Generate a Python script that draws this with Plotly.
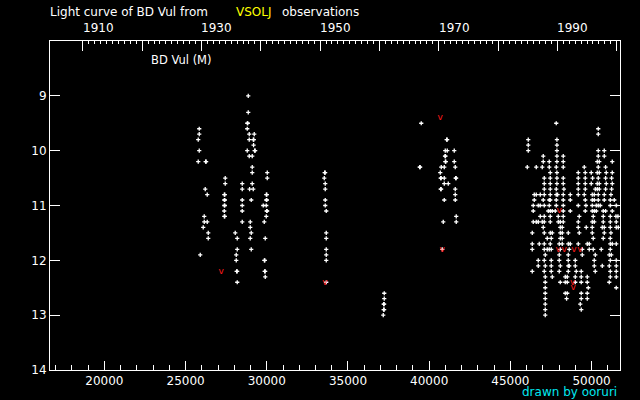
import plotly.graph_objects as go
from datetime import date

# ---------------- data (JD - 2400000, visual magnitude) ----------------
jd_early = [28858, 28858, 28800, 28830, 28796, 28919, 29227, 28919, 29170, 29200,
            29186, 28796, 29250, 29285, 28919, 29104, 25840, 25840, 25778, 25840,
            25778, 26235, 26265, 29104, 29104, 30028, 30028, 27441, 27441, 28488,
            29104, 26209, 28488, 28940, 29166, 26332, 27385, 27415, 29972, 30002,
            27385, 27415, 28488, 29042, 29972, 30002, 27385, 27415, 28488, 29782,
            29966, 27379, 28488, 29992, 30022, 27385, 27415, 26148, 29966, 26148,
            26332, 28488, 28981, 29843, 26086, 28981, 26394, 28057, 29042, 26394,
            28180, 28981, 29905, 28180, 29042, 25901, 28119, 28119, 29850, 29880,
            28145, 28175, 29870, 29900, 29905, 28180]
mag_early = [9.0, 9.3, 9.5, 9.5, 9.6, 9.7, 9.7, 9.8, 9.8, 9.8,
             9.9, 10.0, 10.0, 10.0, 10.1, 10.1, 9.6, 9.7, 9.8, 10.0,
             10.2, 10.2, 10.2, 10.3, 10.4, 10.4, 10.5, 10.5, 10.6, 10.6,
             10.6, 10.7, 10.7, 10.7, 10.7, 10.8, 10.8, 10.8, 10.8, 10.8,
             10.9, 10.9, 10.9, 10.9, 10.9, 10.9, 11.0, 11.0, 11.0, 11.0,
             11.0, 11.1, 11.1, 11.1, 11.1, 11.2, 11.2, 11.2, 11.2, 11.3,
             11.3, 11.3, 11.3, 11.3, 11.4, 11.4, 11.5, 11.5, 11.5, 11.6,
             11.6, 11.6, 11.6, 11.8, 11.8, 11.9, 11.9, 12.0, 12.0, 12.0,
             12.2, 12.2, 12.2, 12.2, 12.3, 12.4]

jd_mid = [33564, 33594, 33538, 33599, 33599, 33599, 33599, 33661, 33661, 33661,
          33661, 33661, 33661, 33661, 37233, 37233, 37197, 37227, 37197, 37227,
          37171]
mag_mid = [10.4, 10.4, 10.5, 10.6, 10.7, 10.9, 11.0, 11.1, 11.5, 11.6,
           11.8, 11.9, 12.0, 12.4, 12.6, 12.7, 12.8, 12.8, 12.9, 12.9,
           13.0]

jd_1970 = [39511, 41077, 41107, 40989, 41112, 41543, 40974, 41004, 40995, 41025,
           41543, 39414, 39444, 40743, 40928, 41605, 40681, 40707, 40737, 40928,
           41631, 41661, 40928, 41174, 40707, 40737, 41605, 41605, 40928, 41605,
           41666, 40866, 41666, 40804]
mag_1970 = [9.5, 9.8, 9.8, 10.0, 10.0, 10.0, 10.1, 10.1, 10.2, 10.2,
            10.2, 10.3, 10.3, 10.3, 10.3, 10.3, 10.4, 10.5, 10.5, 10.5,
            10.5, 10.5, 10.6, 10.6, 10.7, 10.7, 10.7, 10.8, 10.9, 10.9,
            11.2, 11.3, 11.3, 11.8]

# 1985-2000: estimates grouped by magnitude level
rows_mag = [9.5, 9.6, 9.7, 9.8, 9.9, 10.0, 10.1, 10.2, 10.3, 10.4, 10.5, 10.6,
            10.7, 10.8, 10.9, 11.0, 11.1, 11.2, 11.3, 11.4, 11.5, 11.6, 11.7,
            11.8, 11.9, 12.0, 12.1, 12.2, 12.3, 12.4, 12.5, 12.6, 12.7, 12.8,
            12.9, 13.0]
rows_jd = [
    [47825],
    [50411],
    [50411],
    [46100, 47866],
    [46100, 47866],
    [46100, 47866, 50411, 50781],
    [47024, 47866, 48256, 50411, 50781],
    [47024, 47393, 47866, 48256, 50350, 50473, 51274],
    [46039, 46593, 46962, 47393, 47825, 48256, 49549, 50411, 50863],
    [47455, 47866, 49179, 49611, 49980, 50350, 50473, 50904, 51274],
    [47086, 47455, 47866, 48256, 49179, 49611, 50062, 50411, 50863, 51233],
    [47086, 47455, 47866, 48256, 49179, 49611, 49980, 50350, 50473, 50904, 51274],
    [47086, 47455, 47825, 48297, 49179, 49611, 50227, 50350, 50473, 50863, 51233],
    [46470, 46593, 46839, 47086, 47455, 47825, 47907, 48256, 48687, 49179, 49549,
     50042, 50165, 50411, 50781, 51192],
    [46470, 47024, 47393, 47455, 47825, 48256, 48687, 49611, 50042, 50165, 50411,
     50781, 51151, 51397],
    [46408, 46716, 46839, 47086, 47393, 47825, 48256, 49179, 49652, 50042, 50288,
     50411, 50535, 51151, 51520],
    [46408, 47332, 47455, 47578, 47763, 48256, 48687, 49611, 50042, 50165, 50288,
     50719, 50863, 51274],
    [46839, 47086, 47455, 47948, 48256, 49241, 50103, 50719, 51151, 51500, 51623],
    [46408, 46593, 46716, 46962, 47086, 47455, 47948, 48071, 48256, 49179, 50042,
     50165, 50719, 51151, 51520],
    [47024, 48071, 48194, 49179, 49672, 50042, 50658, 50781, 51151, 51520, 51643],
    [46347, 47086, 47455, 47578, 48071, 48194, 48564, 49241, 50042, 50781, 51192],
    [47270, 47517, 48071, 48194, 50103, 50719, 51151],
    [46347, 46778, 47086, 47455, 48009, 48194, 48564, 48687, 49179, 49734, 49857,
     51151, 51274, 51520],
    [46347, 47086, 47270, 47393, 47517, 48071, 48625, 49426, 49857, 50103, 50596,
     51151],
    [47147, 48009, 48564, 49426, 50227, 51089, 51212],
    [46716, 47086, 47517, 48009, 48564, 48995, 50165, 51151, 51520],
    [46716, 47147, 47517, 48071, 48564, 48625, 48995, 50165, 50658, 51089, 51520],
    [46347, 47086, 47517, 48009, 48564, 49056, 49364, 50227, 51151, 51520],
    [47147, 47578, 48379, 48502, 48995, 49364, 49734, 51151, 51520],
    [47147, 48071, 48379, 48502, 48995, 49364, 49734, 51089],
    [47147, 49795, 51520],
    [47147, 48379, 48502, 49364, 49734],
    [47147, 48461, 49364, 49734],
    [47147, 49303],
    [47147, 49364],
    [47147],
]

# "fainter than" estimates (red)
jd_limit = [27195, 33579, 40681, 40804, 48009, 47948, 48317, 48913, 49282, 48830, 48872]
mag_limit = [12.2, 12.4, 9.4, 11.8, 11.1, 11.8, 11.8, 11.8, 11.8, 12.4, 12.5]

x_range = [16650, 51750]
y_range = [14, 8]
mag_ticks = [9, 10, 11, 12, 13, 14]
year_major = [1910, 1920, 1930, 1940, 1950, 1960, 1970, 1980, 1990, 2000]
year_labels = [1910, 1930, 1950, 1970, 1990]
year_minor = list(range(1910, 2001))


def jd_of_year(y):
    return (date(y, 1, 1) - date(1858, 11, 17)).days + 0.5


jd_modern = [j for row in rows_jd for j in row]
mag_modern = [m for m, row in zip(rows_mag, rows_jd) for _ in row]

all_jd = jd_early + jd_mid + jd_1970 + jd_modern
all_mag = mag_early + mag_mid + mag_1970 + mag_modern

FONT = "DejaVu Sans"

fig = go.Figure()
fig.add_trace(go.Scatter(
    x=all_jd, y=all_mag, mode="markers",
    marker=dict(symbol="cross-thin", size=3, color="white",
                line=dict(width=1.3, color="white")),
    hoverinfo="skip"))
fig.add_trace(go.Scatter(
    x=jd_limit, y=mag_limit, mode="text", text=["v"] * len(jd_limit),
    textposition="middle center",
    textfont=dict(family=FONT, size=9, color="#ff1a1a"),
    hoverinfo="skip"))
# invisible trace so the top (year) axis is drawn
fig.add_trace(go.Scatter(x=x_range, y=y_range, xaxis="x2", yaxis="y",
                         mode="markers", marker=dict(opacity=0),
                         hoverinfo="skip"))

fig.update_layout(
    width=640, height=400,
    margin=dict(l=50, r=20, t=41, b=30),
    paper_bgcolor="black", plot_bgcolor="black",
    showlegend=False,
    font=dict(family=FONT, color="white", size=12),
    xaxis=dict(range=x_range, tickmode="linear", tick0=0, dtick=5000,
               tickformat="d", ticks="inside", ticklen=9, tickwidth=1,
               tickcolor="white", showline=True, linecolor="white",
               linewidth=1, showgrid=False, zeroline=False,
               tickfont=dict(size=12),
               minor=dict(tickmode="linear", tick0=0, dtick=1000,
                          ticks="inside", ticklen=5, tickcolor="white",
                          showgrid=False)),
    xaxis2=dict(range=x_range, overlaying="x", side="top", anchor="y",
                tickmode="array", tickvals=[jd_of_year(y) for y in year_major],
                ticks="inside", ticklen=10, tickcolor="white",
                showticklabels=False, showline=True, linecolor="white",
                linewidth=1, showgrid=False, zeroline=False,
                minor=dict(tickmode="array",
                           tickvals=[jd_of_year(y) for y in year_minor],
                           ticks="inside", ticklen=3, tickcolor="white",
                           showgrid=False)),
    yaxis=dict(range=y_range, tickmode="array", tickvals=mag_ticks,
               ticks="inside", ticklen=10, tickcolor="white", mirror="ticks",
               showline=True, linecolor="white", linewidth=1,
               showgrid=False, zeroline=False, tickfont=dict(size=12)),
)

annots = []
for y in year_labels:
    annots.append(dict(x=jd_of_year(y), xref="x2", y=1.0395, yref="paper",
                       text=str(y), showarrow=False, xanchor="left",
                       yanchor="middle", xshift=-2,
                       font=dict(family=FONT, size=12, color="white")))
annots += [
    dict(x=0.0, xref="paper", y=1.087, yref="paper",
         text="Light curve of BD Vul from", showarrow=False, xanchor="left",
         yanchor="middle", xshift=-2, font=dict(family=FONT, size=12, color="white")),
    dict(x=0.3263, xref="paper", y=1.087, yref="paper", text="VSOLJ",
         showarrow=False, xanchor="left", yanchor="middle", xshift=-2,
         font=dict(family=FONT, size=12, color="#ffff00")),
    dict(x=0.407, xref="paper", y=1.087, yref="paper", text="observations",
         showarrow=False, xanchor="left", yanchor="middle", xshift=-2,
         font=dict(family=FONT, size=12, color="white")),
    dict(x=0.1767, xref="paper", y=0.942, yref="paper", text="BD Vul (M)",
         showarrow=False, xanchor="left", yanchor="middle", xshift=-2,
         font=dict(family=FONT, size=11.5, color="white")),
    dict(x=0.9947, xref="paper", y=-0.068, yref="paper", text="drawn by ooruri",
         showarrow=False, xanchor="right", yanchor="middle", xshift=2,
         font=dict(family=FONT, size=12, color="#00e8f0")),
]
fig.update_layout(annotations=annots)

# remove the page's default 8px body margin so the 640x400 figure fills the window
fig.write_html("out.html",
               config={"displayModeBar": False, "staticPlot": True},
               post_script="document.body.style.margin='0px';"
                           "document.body.style.overflow='hidden';")
